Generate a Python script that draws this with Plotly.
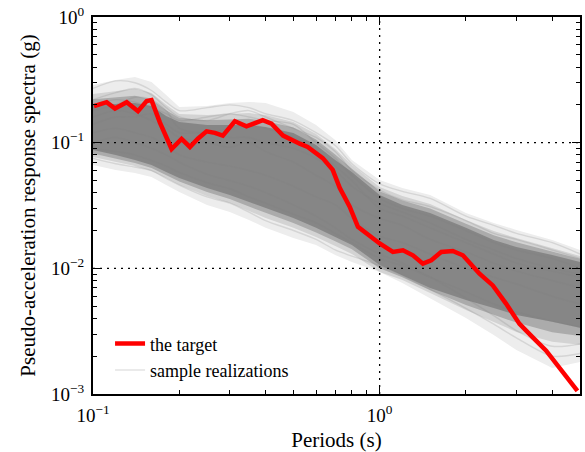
import plotly.graph_objects as go

# ---------------- data ----------------
periods = [0.1, 0.12, 0.14, 0.16, 0.18, 0.2, 0.25, 0.3, 0.35, 0.4, 0.5,
           0.6, 0.7, 0.8, 1.0, 1.2, 1.5, 2.0, 2.5, 3.0, 4.0, 5.0]

# envelopes of the sample realizations (outer to inner)
env_max = [0.288, 0.315, 0.333, 0.304, 0.240, 0.192, 0.196, 0.207, 0.211, 0.207, 0.175,
           0.138, 0.105, 0.0729, 0.0505, 0.0436, 0.0384, 0.0276, 0.0230, 0.0202, 0.0168, 0.0140]
env_hi = [0.244, 0.258, 0.268, 0.249, 0.200, 0.169, 0.166, 0.169, 0.172, 0.166, 0.146,
          0.117, 0.0891, 0.0665, 0.0444, 0.0377, 0.0325, 0.0243, 0.0198, 0.01745, 0.01453, 0.01256]
env_q_hi = [0.222, 0.229, 0.236, 0.221, 0.181, 0.157, 0.151, 0.153, 0.155, 0.149, 0.132,
            0.106, 0.0805, 0.062, 0.041, 0.0346, 0.030, 0.0226, 0.0183, 0.0161, 0.0136, 0.0119]
env_core_hi = [0.203, 0.203, 0.207, 0.196, 0.163, 0.146, 0.138, 0.138, 0.138, 0.133, 0.1195,
               0.0959, 0.0729, 0.0585, 0.0384, 0.0319, 0.0276, 0.0210, 0.0168, 0.0148, 0.01279, 0.01125]
env_core_lo = [0.0875, 0.0798, 0.0729, 0.0665, 0.0585, 0.0524, 0.0436, 0.0384, 0.0337, 0.0302, 0.0252,
               0.0210, 0.01778, 0.01536, 0.01064, 0.00886, 0.00699, 0.00561, 0.00484, 0.00426, 0.00375, 0.00336]
env_q_lo = [0.082, 0.075, 0.069, 0.063, 0.0555, 0.049, 0.0405, 0.0357, 0.031, 0.0276, 0.023,
            0.0193, 0.0164, 0.0142, 0.0100, 0.0085, 0.0067, 0.0051, 0.0043, 0.0037, 0.0031, 0.0029]
env_lo = [0.0769, 0.0702, 0.0653, 0.0596, 0.0524, 0.0461, 0.0377, 0.0331, 0.0286, 0.0252, 0.0210,
          0.01778, 0.01508, 0.01302, 0.00936, 0.00809, 0.00637, 0.00467, 0.00375, 0.00312, 0.0026, 0.00246]
env_min = [0.0665, 0.0607, 0.0574, 0.0534, 0.0461, 0.0405, 0.0319, 0.0281, 0.0243, 0.0210, 0.01745,
           0.01536, 0.01279, 0.01125, 0.00936, 0.00766, 0.00581, 0.00403, 0.00295, 0.00224, 0.00161, 0.0018]

# a few individual realizations
sample_1 = [0.27, 0.31, 0.30, 0.26, 0.21, 0.18, 0.19, 0.20, 0.19, 0.17, 0.15, 0.12, 0.095, 0.068, 0.047, 0.041, 0.036, 0.026, 0.022, 0.019, 0.016, 0.013]
sample_2 = [0.22, 0.25, 0.27, 0.24, 0.19, 0.16, 0.15, 0.17, 0.18, 0.16, 0.13, 0.11, 0.085, 0.060, 0.042, 0.035, 0.031, 0.024, 0.019, 0.017, 0.014, 0.012]
sample_3 = [0.16, 0.18, 0.17, 0.15, 0.13, 0.11, 0.10, 0.092, 0.10, 0.085, 0.07, 0.055, 0.045, 0.032, 0.025, 0.022, 0.017, 0.0135, 0.011, 0.0095, 0.008, 0.007]
sample_4 = [0.12, 0.13, 0.12, 0.11, 0.095, 0.08, 0.07, 0.065, 0.06, 0.055, 0.045, 0.037, 0.032, 0.025, 0.018, 0.016, 0.013, 0.010, 0.0085, 0.0075, 0.006, 0.0052]
sample_5 = [0.075, 0.068, 0.064, 0.06, 0.052, 0.046, 0.037, 0.033, 0.028, 0.024, 0.020, 0.017, 0.014, 0.0125, 0.0105, 0.0088, 0.0068, 0.0048, 0.0036, 0.0028, 0.0020, 0.0021]
sample_6 = [0.09, 0.085, 0.08, 0.072, 0.065, 0.058, 0.048, 0.043, 0.037, 0.033, 0.027, 0.023, 0.019, 0.016, 0.012, 0.0105, 0.0085, 0.0065, 0.0052, 0.0045, 0.0038, 0.0034]
sample_7 = [0.20, 0.22, 0.21, 0.19, 0.17, 0.15, 0.16, 0.17, 0.16, 0.15, 0.14, 0.10, 0.075, 0.055, 0.036, 0.030, 0.026, 0.020, 0.016, 0.014, 0.012, 0.010]
sample_8 = [0.14, 0.16, 0.16, 0.17, 0.14, 0.12, 0.12, 0.11, 0.11, 0.10, 0.09, 0.075, 0.06, 0.045, 0.033, 0.028, 0.023, 0.017, 0.014, 0.012, 0.010, 0.009]
sample_9 = [0.10, 0.11, 0.10, 0.09, 0.08, 0.07, 0.056, 0.05, 0.045, 0.04, 0.032, 0.026, 0.021, 0.017, 0.013, 0.011, 0.0085, 0.0058, 0.0042, 0.0032, 0.0024, 0.0025]
sample_10 = [0.18, 0.20, 0.23, 0.22, 0.18, 0.13, 0.12, 0.13, 0.14, 0.13, 0.11, 0.085, 0.065, 0.050, 0.030, 0.026, 0.021, 0.016, 0.013, 0.011, 0.0095, 0.0085]
samples = [sample_1, sample_2, sample_3, sample_4, sample_5,
           sample_6, sample_7, sample_8, sample_9, sample_10]

# target spectrum
target_periods = [0.1008, 0.1116, 0.1193, 0.1311, 0.1435, 0.1539, 0.160, 0.1712, 0.188, 0.2037,
                  0.2178, 0.2322, 0.249, 0.2661, 0.2838, 0.3125, 0.343, 0.391, 0.4195, 0.4603,
                  0.5263, 0.561, 0.633, 0.686, 0.7255, 0.786, 0.840, 0.910, 1.0, 1.112,
                  1.206, 1.306, 1.415, 1.514, 1.640, 1.800, 1.951, 2.230, 2.482, 2.764,
                  3.075, 3.421, 3.809, 4.897]
target_psa = [0.195, 0.210, 0.187, 0.210, 0.178, 0.214, 0.218, 0.1445, 0.0890, 0.107,
              0.0924, 0.1076, 0.1231, 0.1196, 0.1138, 0.148, 0.135, 0.1508, 0.1419, 0.1138,
              0.0982, 0.0924, 0.0754, 0.0608, 0.0437, 0.0309, 0.0214, 0.01837, 0.01576, 0.0135,
              0.01393, 0.0127, 0.0109, 0.01159, 0.0135, 0.01375, 0.0127, 0.00907, 0.00731, 0.00522,
              0.00361, 0.00282, 0.00221, 0.00106]

x_major = [0.1, 1]
x_major_text = ["10<sup>−1</sup>", "10<sup>0</sup>"]
x_minor = [0.2, 0.3, 0.4, 0.5, 0.6, 0.7, 0.8, 0.9, 2, 3, 4]
y_major = [0.001, 0.01, 0.1, 1]
y_major_text = ["10<sup>−3</sup>", "10<sup>−2</sup>", "10<sup>−1</sup>", "10<sup>0</sup>"]
y_minor = [0.002, 0.003, 0.004, 0.005, 0.006, 0.007, 0.008, 0.009,
           0.02, 0.03, 0.04, 0.05, 0.06, 0.07, 0.08, 0.09,
           0.2, 0.3, 0.4, 0.5, 0.6, 0.7, 0.8, 0.9]
x_lim = [0.1, 5.0]
y_lim = [0.001, 1.0]

FONT = "Liberation Serif"

fig = go.Figure()

# envelope bands (outer -> inner)
bands = [(env_max, env_min, "#ededed"),
         (env_hi, env_lo, "#d3d3d3"),
         (env_q_hi, env_q_lo, "#ababab"),
         (env_core_hi, env_core_lo, "#868686")]
for up, lo, col in bands:
    fig.add_trace(go.Scatter(
        x=periods + periods[::-1], y=up + lo[::-1],
        fill="toself", fillcolor=col, mode="lines",
        line=dict(width=0, color=col),
        hoverinfo="skip", showlegend=False))

# individual realizations
for i, s in enumerate(samples):
    fig.add_trace(go.Scatter(
        x=periods, y=s, mode="lines",
        line=dict(color="rgba(128,128,128,0.22)", width=1.4, shape="spline", smoothing=0.8),
        name="sample realizations", showlegend=(i == 0), legendrank=2,
        hoverinfo="skip"))

# dotted grid lines (drawn above the gray band, below the target)
for xv in x_major:
    if x_lim[0] < xv < x_lim[1]:
        fig.add_trace(go.Scatter(x=[xv, xv], y=y_lim, mode="lines",
                                 line=dict(color="black", width=1.3, dash="2px,5px"),
                                 showlegend=False, hoverinfo="skip"))
for yv in y_major:
    if y_lim[0] < yv < y_lim[1]:
        fig.add_trace(go.Scatter(x=x_lim, y=[yv, yv], mode="lines",
                                 line=dict(color="black", width=1.3, dash="2px,5px"),
                                 showlegend=False, hoverinfo="skip"))

# target
fig.add_trace(go.Scatter(
    x=target_periods, y=target_psa, mode="lines",
    line=dict(color="#ff0000", width=4.5),
    name="the target", legendrank=1))

axis_common = dict(
    type="log", showgrid=False, zeroline=False,
    showline=True, linecolor="black", linewidth=2, mirror="allticks",
    ticks="inside", ticklen=8, tickwidth=1, tickcolor="black",
    tickfont=dict(family=FONT, size=19, color="black"),
    title_font=dict(family=FONT, size=21, color="black"),
    ticklabelstandoff=3,
)

fig.update_xaxes(
    **axis_common,
    range=[-1, 0.69897],
    tickmode="array", tickvals=x_major, ticktext=x_major_text,
    minor=dict(tickmode="array", tickvals=x_minor, ticks="inside", ticklen=4,
               tickcolor="black", tickwidth=1, showgrid=False),
    title_text="Periods (s)", title_standoff=13,
)
fig.update_yaxes(
    **axis_common,
    range=[-3, 0],
    tickmode="array", tickvals=y_major, ticktext=y_major_text,
    minor=dict(tickmode="array", tickvals=y_minor, ticks="inside", ticklen=4,
               tickcolor="black", tickwidth=1, showgrid=False),
    title_text="Pseudo-acceleration response spectra (g)", title_standoff=10,
)

fig.update_layout(
    width=585, height=452,
    margin=dict(l=93, r=5, t=17, b=58, autoexpand=False),
    paper_bgcolor="white", plot_bgcolor="white",
    font=dict(family=FONT, color="black"),
    legend=dict(x=0.035, y=0.182, xanchor="left", yanchor="top",
                bgcolor="rgba(0,0,0,0)", borderwidth=0,
                font=dict(family=FONT, size=18, color="black"),
                itemwidth=30, tracegroupgap=0),
    showlegend=True,
)

fig.write_html("out.html")
